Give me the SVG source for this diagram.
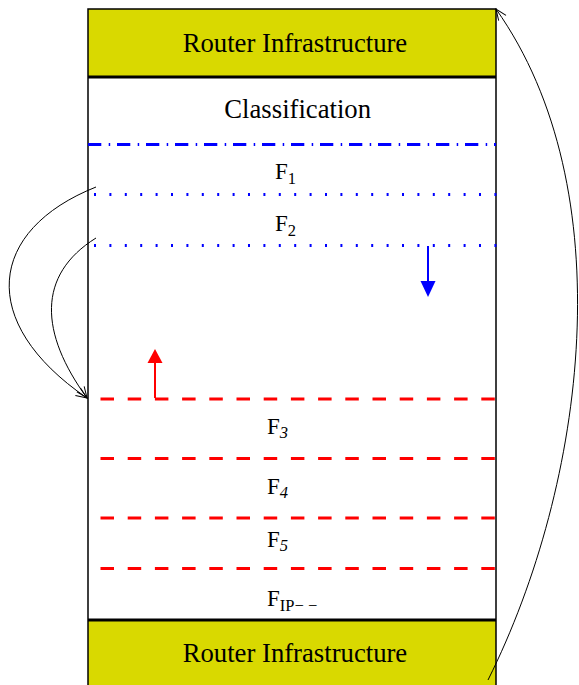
<svg xmlns="http://www.w3.org/2000/svg" width="579" height="685" viewBox="0 0 579 685">
<defs>
<style>
.t{font-family:"Liberation Serif","Times New Roman",serif;fill:#000}
.big{font-size:26.7px}
.f{font-size:23px}
.sub{font-size:16.5px}
.it{font-style:italic}
.yellow{fill:#d9d900;stroke:none}
.sep{stroke:#000;stroke-width:3}
.red{stroke:#ff0000;stroke-width:3;stroke-dasharray:13.5 13.7;fill:none}
.blueDot{stroke:#0000ff;stroke-width:3;stroke-dasharray:2 13.4;fill:none}
.conn{fill:none;stroke:#000;stroke-width:1}
</style>
<marker id="open" markerUnits="userSpaceOnUse" markerWidth="14" markerHeight="12" viewBox="-12 -6 14 12" refX="0" refY="0" orient="auto">
<path d="M-11,-4.5 L0,0 L-11,4.5" fill="none" stroke="#000" stroke-width="1"/>
</marker>
</defs>
<rect x="0" y="0" width="579" height="685" fill="#fff"/>

<g id="router-top">
<rect class="yellow" x="88" y="9" width="408" height="68"/>
<text class="t big" x="182.7" y="51.7">Router Infrastructure</text>
</g>

<g id="router-bottom">
<rect class="yellow" x="88" y="620" width="408" height="66"/>
<text class="t big" x="182.7" y="662.3">Router Infrastructure</text>
</g>

<g id="frame">
<path d="M88,686 V9 H496 V686" fill="none" stroke="#000" stroke-width="1.5"/>
<line class="sep" x1="88" y1="77" x2="496" y2="77"/>
<line class="sep" x1="88" y1="620" x2="496" y2="620"/>
</g>

<g id="classification">
<text class="t big" x="224.3" y="118.3">Classification</text>
<line x1="88" y1="144.5" x2="496" y2="144.5" stroke="#0000ff" stroke-width="3" stroke-dasharray="13.3 7.4 1.5 6.8"/>
</g>

<g id="F1">
<text class="t f" x="275" y="178.5">F<tspan class="sub" dy="5">1</tspan></text>
<line class="blueDot" x1="94" y1="194.5" x2="497" y2="194.5"/>
</g>

<g id="F2">
<text class="t f" x="275" y="231">F<tspan class="sub" dy="5">2</tspan></text>
<line class="blueDot" x1="94" y1="245.5" x2="497" y2="245.5"/>
</g>

<g id="F3">
<line class="red" x1="100.5" y1="399" x2="496" y2="399"/>
<text class="t f" x="267" y="433.5">F<tspan class="sub it" dy="4">3</tspan></text>
</g>

<g id="F4">
<line class="red" x1="100.5" y1="458.5" x2="496" y2="458.5"/>
<text class="t f" x="267" y="493.5">F<tspan class="sub it" dy="4">4</tspan></text>
</g>

<g id="F5">
<line class="red" x1="100.5" y1="518" x2="496" y2="518"/>
<text class="t f" x="267" y="546.7">F<tspan class="sub it" dy="4">5</tspan></text>
</g>

<g id="FIP">
<line class="red" x1="100.5" y1="568.5" x2="496" y2="568.5"/>
<text class="t f" x="267" y="605.5">F<tspan class="sub" dy="5">IP− −</tspan></text>
</g>

<g id="connectors">
<path class="conn" d="M96,187 C-12,230 -24,322 87,398" marker-end="url(#open)"/>
<path class="conn" d="M96,238 C36.5,275.1 39.8,333.2 87,398" marker-end="url(#open)"/>
<path class="conn" d="M488,680 C586.3,483.3 623.6,189.4 496,9" marker-end="url(#open)"/>
<line x1="155" y1="398" x2="155" y2="362" stroke="#ff0000" stroke-width="2"/>
<polygon points="155,349 147.5,363 162.5,363" fill="#ff0000"/>
<line x1="428" y1="246" x2="428" y2="282" stroke="#0000ff" stroke-width="2"/>
<polygon points="428,297 420.5,281 435.5,281" fill="#0000ff"/>
</g>
</svg>
